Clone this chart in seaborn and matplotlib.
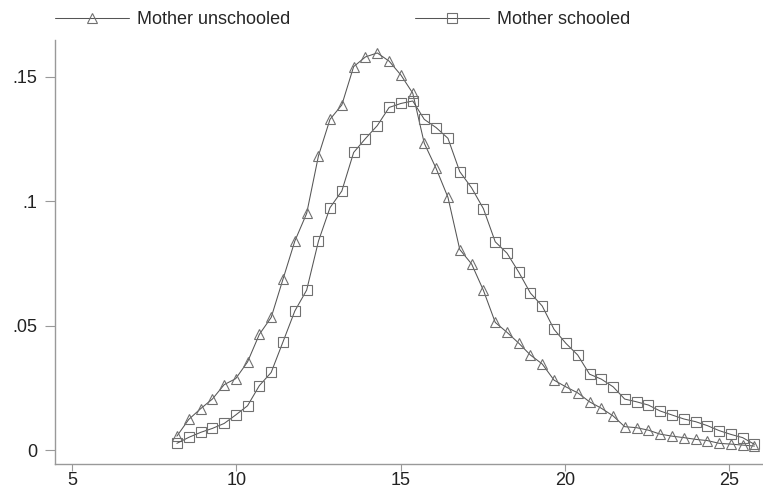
import numpy as np
import pandas as pd
import matplotlib
matplotlib.use("Agg")
import matplotlib.pyplot as plt
import seaborn as sns

# Valori (50 punti equispaziati)
x_vals = [8.19, 8.55, 8.91, 9.27, 9.63, 9.98, 10.34, 10.70, 11.06, 11.42,
          11.78, 12.14, 12.50, 12.85, 13.21, 13.57, 13.93, 14.29, 14.65, 15.01,
          15.37, 15.72, 16.08, 16.44, 16.80, 17.16, 17.52, 17.88, 18.24, 18.60,
          18.95, 19.31, 19.67, 20.03, 20.39, 20.75, 21.11, 21.47, 21.82, 22.18,
          22.54, 22.90, 23.26, 23.62, 23.98, 24.34, 24.70, 25.05, 25.41, 25.77]

unschooled = [.0056, .0123, .0166, .0205, .0263, .0287, .0354, .0465, .0533, .0687,
              .0840, .0951, .1183, .1329, .1387, .1541, .1580, .1596, .1563, .1507,
              .1434, .1233, .1132, .1016, .0806, .0748, .0642, .0513, .0473, .0429,
              .0382, .0346, .0281, .0254, .0230, .0194, .0168, .0137, .0094, .0090,
              .0080, .0064, .0056, .0050, .0043, .0038, .0027, .0024, .0020, .0016]

schooled = [.0027, .0051, .0071, .0087, .0107, .0141, .0178, .0259, .0312, .0435,
            .0559, .0643, .0840, .0974, .1041, .1196, .1252, .1304, .1377, .1393,
            .1403, .1329, .1296, .1253, .1119, .1054, .0970, .0837, .0791, .0714,
            .0631, .0579, .0485, .0429, .0382, .0305, .0285, .0254, .0205, .0194,
            .0181, .0157, .0141, .0125, .0114, .0098, .0078, .0063, .0050, .0023]

labels = ["Mother unschooled", "Mother schooled"]
x_ticks = [5, 10, 15, 20, 25]
y_ticks = [0, 0.05, 0.1, 0.15]
y_tick_labels = ["0", ".05", ".1", ".15"]

sns.set_style("white")
plt.rcParams["font.family"] = ["Liberation Sans", "DejaVu Sans"]

fig = plt.figure(figsize=(7.63, 4.97), dpi=100)
ax = fig.add_axes([55 / 763, 33 / 497, 1 - 55 / 763, (464 - 40) / 497])

line_col = "#555555"
mark_col = "#707070"

sns.lineplot(x=x_vals, y=unschooled, ax=ax, color=line_col, linewidth=0.75,
             marker="^", markersize=7.2, markerfacecolor="none",
             markeredgecolor=mark_col, markeredgewidth=0.8, label=labels[0])
sns.lineplot(x=x_vals, y=schooled, ax=ax, color=line_col, linewidth=0.75,
             marker="s", markersize=7.2, markerfacecolor="none",
             markeredgecolor=mark_col, markeredgewidth=0.8, label=labels[1])

ax.set_xlim(4.48, 26.03)
ax.set_ylim(-0.0056, 0.1648)
ax.set_xticks(x_ticks)
ax.set_yticks(y_ticks)
ax.set_yticklabels(y_tick_labels)
ax.set_xlabel("")
ax.set_ylabel("")

for s in ["top", "right"]:
    ax.spines[s].set_visible(False)
for s in ["left", "bottom"]:
    ax.spines[s].set_color("#999999")
    ax.spines[s].set_linewidth(1.0)
ax.tick_params(axis="both", which="major", direction="out", width=0.8,
               color="#999999", labelsize=13, labelcolor="#222222")
ax.tick_params(axis="x", bottom=True, length=5, pad=1)
ax.tick_params(axis="y", left=True, length=7, pad=6)

handles, labs = ax.get_legend_handles_labels()
ax.get_legend().remove()
fig.legend(handles, labs, loc="upper left", bbox_to_anchor=(55 / 763, 1 - 11 / 497),
           ncol=2, frameon=False, fontsize=13, handlelength=4.1, handletextpad=0.45,
           columnspacing=6.9, borderpad=0, borderaxespad=0, numpoints=1)

fig.savefig("out.png", dpi=100)
